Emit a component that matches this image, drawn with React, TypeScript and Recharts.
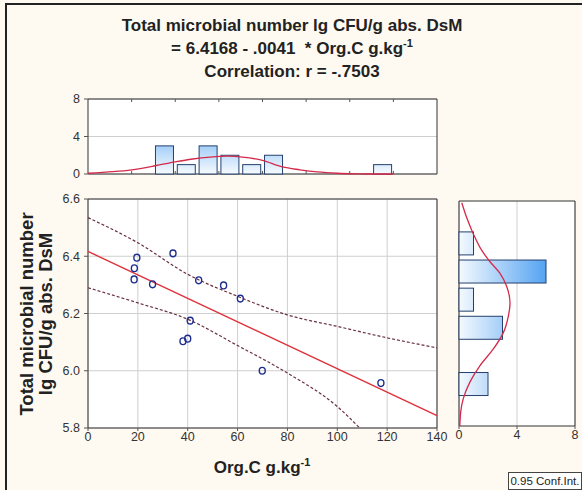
import React from 'react';
import { ComposedChart, XAxis, YAxis, CartesianGrid, Bar, Line, Scatter, ReferenceArea } from 'recharts';

const FONT = "'Liberation Sans', Arial, sans-serif";

// scatter data
const orgC = [19.6, 18.6, 18.5, 25.9, 34.1, 44.4, 54.4, 61.1, 41.0, 40.0, 38.1, 69.9, 117.5];
const microbial = [6.395, 6.358, 6.319, 6.302, 6.41, 6.316, 6.298, 6.252, 6.175, 6.112, 6.103, 6.0, 5.957];

// regression line endpoints (6.4168 - .0041 * x)
const regX = [0, 140];
const regY = [6.4168, 5.843];

// 0.95 confidence bands
const upperX = [0, 20, 40, 60, 80, 100, 120, 140];
const upperY = [6.535, 6.447, 6.337, 6.26, 6.195, 6.155, 6.115, 6.08];
const lowerX = [0, 20, 40, 60, 80, 100, 109];
const lowerY = [6.29, 6.237, 6.18, 6.088, 5.992, 5.875, 5.8];

// top histogram (Org.C)
const topBinCenters = [30.625, 39.375, 48.125, 56.875, 65.625, 74.375, 118.125];
const topCounts = [3, 1, 3, 2, 1, 2, 1];
const topCurveX = [0, 10, 17.5, 27, 35, 42, 49, 56, 62, 70, 78, 85, 92, 100, 108, 115, 122.5];
const topCurveY = [0.08, 0.25, 0.45, 0.88, 1.3, 1.6, 1.8, 1.9, 1.8, 1.45, 0.75, 0.45, 0.22, 0.08, 0.02, 0, 0];

// right histogram (microbial number)
const rightBinCenters = [6.45, 6.35, 6.25, 6.15, 5.95];
const rightCounts = [1, 6, 1, 3, 2];
const rightCurveY = [6.594, 6.541, 6.483, 6.425, 6.384, 6.343, 6.296, 6.237, 6.19, 6.132, 6.074, 6.015, 5.957, 5.898, 5.851, 5.816, 5.8];
const rightCurveC = [0.19, 0.53, 0.99, 1.56, 2.14, 2.83, 3.29, 3.52, 3.4, 3.06, 2.37, 1.45, 0.76, 0.3, 0.12, 0.07, 0.05];

const xTicks = [0, 20, 40, 60, 80, 100, 120, 140];
const yTicks = [5.8, 6.0, 6.2, 6.4, 6.6];
const histCountTicks = [0, 4, 8];
const topHistTicks = [17.5, 35, 52.5, 70, 87.5, 105, 122.5];

const points = orgC.map((x, i) => ({ x, y: microbial[i] }));
const regLine = regX.map((x, i) => ({ x, y: regY[i] }));
const upperBand = upperX.map((x, i) => ({ x, y: upperY[i] }));
const lowerBand = lowerX.map((x, i) => ({ x, y: lowerY[i] }));
const topBins = topBinCenters.map((x, i) => ({ x, c: topCounts[i] }));
const topCurve = topCurveX.map((x, i) => ({ x, c: topCurveY[i] }));
const rightBins = rightBinCenters.map((y, i) => ({ y, c: rightCounts[i] }));
const rightCurve = rightCurveY.map((y, i) => ({ y, c: rightCurveC[i] }));

const tick = { fontSize: 12.5, fill: '#333', fontFamily: FONT };
const GRID = '#cfcfcf';
const BORDER = '#333';
const CURVE = '#d42a4a';
const BAND = '#6a3040';
const BAR_STROKE = '#24406e';
const empty = () => '';

const Circle = (props: any) => {
  const { cx, cy } = props;
  if (cx == null || cy == null) return null;
  return <ellipse cx={cx} cy={cy} rx={3} ry={3.4} fill="none" stroke="#1c2d8f" strokeWidth={1.4} />;
};

// column bar: keep value extent from the scale, use a fixed drawn width
const TopBarShape = (props: any) => {
  const { x, y, width, height } = props;
  if (height == null || !(height > 0)) return null;
  const cx = x + width / 2;
  const w = 18;
  return <rect x={cx - w / 2} y={y} width={w} height={height} fill="url(#gradTop)" stroke={BAR_STROKE} strokeWidth={1} />;
};

const RightBarShape = (props: any) => {
  const { x, y, width, height } = props;
  if (width == null || !(width > 0)) return null;
  const cy = y + height / 2;
  const h = 23;
  return <rect x={x} y={cy - h / 2} width={width} height={h} fill="url(#gradRight)" stroke={BAR_STROKE} strokeWidth={1} />;
};

export default function App() {
  return (
    <div style={{ position: 'absolute', left: 0, top: 0, width: 582, height: 490, background: '#fffaf1', overflow: 'hidden', fontFamily: FONT }}>
      <div style={{ position: 'absolute', left: 5, top: 3, right: -5, bottom: -5, borderLeft: '2px solid #222', borderTop: '2px solid #222' }} />

      {/* title */}
      <div style={{ position: 'absolute', left: 0, top: 15, width: 584, textAlign: 'center', fontWeight: 'bold', fontSize: 17, lineHeight: '22.5px', color: '#222', whiteSpace: 'pre' }}>
        <div>Total microbial number lg CFU/g abs. DsM</div>
        <div>= 6.4168 - .0041  * Org.C g.kg<span style={{ fontSize: 11, position: 'relative', top: -7 }}>-1</span></div>
        <div>Correlation: r = -.7503</div>
      </div>

      {/* top histogram */}
      <div style={{ position: 'absolute', left: 0, top: 0 }}>
        <ComposedChart width={582} height={490} data={topBins} margin={{ top: 99, right: 145, bottom: 316, left: 58 }}>
          <defs>
            <linearGradient id="gradTop" gradientUnits="userSpaceOnUse" x1="0" y1="173" x2="0" y2="100">
              <stop offset="0" stopColor="#f4f9fe" />
              <stop offset="1" stopColor="#1f87ee" />
            </linearGradient>
          </defs>
          <CartesianGrid fill="#fff" stroke={GRID} vertical={false} />
          <XAxis type="number" dataKey="x" domain={[0, 140]} ticks={topHistTicks} height={1} mirror axisLine={false} tickSize={3} tickFormatter={empty} stroke="#555" />
          <XAxis xAxisId="t" orientation="top" type="number" dataKey="x" domain={[0, 140]} ticks={topHistTicks} height={1} mirror axisLine={false} tickSize={3} tickFormatter={empty} stroke="#555" />
          <YAxis type="number" domain={[0, 8]} ticks={histCountTicks} width={30} tick={tick} tickSize={4} tickMargin={4} axisLine={false} stroke="#555" />
          <Bar dataKey="c" shape={TopBarShape} fill="url(#gradTop)" stroke={BAR_STROKE} isAnimationActive={false} />
          <Line data={topCurve} dataKey="c" type="monotone" stroke={CURVE} strokeWidth={1.3} dot={false} isAnimationActive={false} />
          <ReferenceArea x1={0} x2={140} y1={0} y2={8} fill="none" fillOpacity={0} stroke={BORDER} strokeWidth={1} />
        </ComposedChart>
      </div>

      {/* main scatter */}
      <div style={{ position: 'absolute', left: 0, top: 0 }}>
        <ComposedChart width={582} height={490} margin={{ top: 199, right: 145, bottom: 32, left: 48 }}>
          <CartesianGrid fill="#fff" stroke={GRID} />
          <XAxis type="number" dataKey="x" domain={[0, 140]} ticks={xTicks} height={30} tick={tick} tickSize={3} tickMargin={1} axisLine={false} stroke="#555" />
          <XAxis xAxisId="t" orientation="top" type="number" dataKey="x" domain={[0, 140]} ticks={xTicks} height={1} mirror axisLine={false} tickSize={3} tickFormatter={empty} stroke="#555" />
          <YAxis type="number" dataKey="y" domain={[5.8, 6.6]} ticks={yTicks} width={40} tick={tick} tickSize={4} tickMargin={4} axisLine={false} tickFormatter={(v: number) => v.toFixed(1)} stroke="#555" />
          <YAxis yAxisId="r" orientation="right" type="number" domain={[5.8, 6.6]} ticks={yTicks} width={1} mirror axisLine={false} tickSize={3} tickFormatter={empty} stroke="#555" />
          <Line data={upperBand} dataKey="y" type="monotone" stroke={BAND} strokeWidth={1.2} strokeDasharray="3 2" dot={false} isAnimationActive={false} />
          <Line data={lowerBand} dataKey="y" type="monotone" stroke={BAND} strokeWidth={1.2} strokeDasharray="3 2" dot={false} isAnimationActive={false} />
          <Line data={regLine} dataKey="y" type="linear" stroke="#e0303a" strokeWidth={1.4} dot={false} isAnimationActive={false} />
          <Scatter data={points} dataKey="y" shape={Circle} isAnimationActive={false} />
          <ReferenceArea x1={0} x2={140} y1={5.8} y2={6.6} fill="none" fillOpacity={0} stroke={BORDER} strokeWidth={1} />
        </ComposedChart>
      </div>

      {/* right histogram */}
      <div style={{ position: 'absolute', left: 0, top: 0 }}>
        <ComposedChart width={582} height={490} layout="vertical" data={rightBins} margin={{ top: 201, right: 7, bottom: 34, left: 459 }}>
          <defs>
            <linearGradient id="gradRight" gradientUnits="userSpaceOnUse" x1="459" y1="0" x2="575" y2="0">
              <stop offset="0" stopColor="#f4f9fe" />
              <stop offset="1" stopColor="#1f87ee" />
            </linearGradient>
          </defs>
          <CartesianGrid fill="#fff" stroke={GRID} horizontal={false} />
          <XAxis type="number" domain={[0, 8]} ticks={histCountTicks} height={30} tick={tick} tickSize={3} tickMargin={1} axisLine={false} stroke="#555" />
          <YAxis type="number" dataKey="y" domain={[5.8, 6.6]} reversed hide />
          <Bar dataKey="c" shape={RightBarShape} fill="url(#gradRight)" stroke={BAR_STROKE} isAnimationActive={false} />
          <Line data={rightCurve} dataKey="c" type="monotone" stroke={CURVE} strokeWidth={1.3} dot={false} isAnimationActive={false} />
          <ReferenceArea x1={0} x2={8} y1={5.8} y2={6.6} fill="none" fillOpacity={0} stroke={BORDER} strokeWidth={1} />
        </ComposedChart>
      </div>

      {/* y axis title */}
      <div style={{ position: 'absolute', left: 36 - 120, top: 314 - 19, width: 240, height: 38, transform: 'rotate(-90deg)', transformOrigin: 'center', textAlign: 'center', fontWeight: 'bold', fontSize: 18.5, lineHeight: '19px', color: '#222', whiteSpace: 'nowrap' }}>
        <div>Total microbial number</div>
        <div>lg CFU/g abs. DsM</div>
      </div>

      {/* x axis title */}
      <div style={{ position: 'absolute', left: 162, top: 457, width: 200, textAlign: 'center', fontWeight: 'bold', fontSize: 17, lineHeight: '22px', color: '#222', whiteSpace: 'nowrap' }}>
        Org.C g.kg<span style={{ fontSize: 11, position: 'relative', top: -7 }}>-1</span>
      </div>

      {/* legend box */}
      <div style={{ position: 'absolute', left: 508, top: 472, width: 74, height: 18, boxSizing: 'border-box', border: '1px solid #444', background: '#fff', fontSize: 11.5, lineHeight: '16px', textAlign: 'center', color: '#222', whiteSpace: 'nowrap' }}>
        0.95 Conf.Int.
      </div>
    </div>
  );
}
